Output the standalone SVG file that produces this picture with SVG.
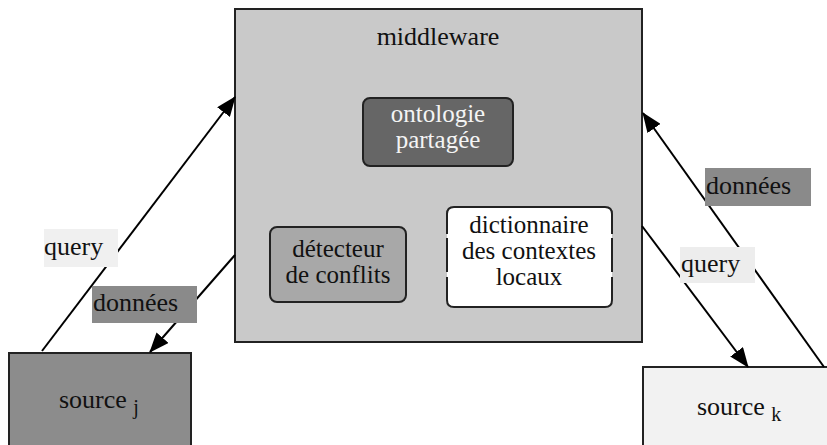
<svg xmlns="http://www.w3.org/2000/svg" width="827" height="445" viewBox="0 0 827 445">
<defs>
<marker id="ah" viewBox="0 0 20 16" refX="19" refY="8" markerWidth="20" markerHeight="16" markerUnits="userSpaceOnUse" orient="auto">
<path d="M0,0 L20,8 L0,16 Z" fill="#000"/>
</marker>
</defs>
<style>
text{font-family:"Liberation Serif","DejaVu Serif","Times New Roman",serif;font-size:26px;fill:#111}
.c{text-anchor:middle}
.m{font-size:25px}
.box{stroke:#222;stroke-width:2}
.conn{stroke:#000;stroke-width:2;fill:none}
</style>
<rect width="827" height="445" fill="#fff"/>
<g id="middleware">
<rect class="box" x="235" y="9" width="407" height="333" fill="#c9c9c9"/>
<text class="c" x="438" y="45" font-family="Liberation Serif, serif">middleware</text>
</g>
<g id="ontologie">
<rect class="box" x="363" y="98" width="150" height="68" rx="7" fill="#666"/>
<text class="c m" x="438" y="122" font-family="Liberation Serif, serif" style="fill:#f4f4f4">ontologie</text>
<text class="c m" x="438" y="148" font-family="Liberation Serif, serif" style="fill:#f4f4f4">partagée</text>
</g>
<g id="detecteur">
<rect class="box" x="270" y="227" width="136" height="75" rx="7" fill="#a8a8a8"/>
<text class="c m" x="338" y="257" font-family="Liberation Serif, serif">détecteur</text>
<text class="c m" x="338" y="283" font-family="Liberation Serif, serif">de conflits</text>
</g>
<g id="dictionnaire">
<rect x="447" y="207" width="165" height="100" rx="7" fill="#fff"/>
<path class="box" fill="none" d="M447,234 V214 Q447,207 454,207 H605 Q612,207 612,214 V234 M612,238 V272 M612,277 V300 Q612,307 605,307 H454 Q447,307 447,300 V277 M447,272 V238"/>
<text class="c m" x="529" y="233" font-family="Liberation Serif, serif">dictionnaire</text>
<text class="c m" x="529" y="259" font-family="Liberation Serif, serif">des contextes</text>
<text class="c m" x="529" y="285" font-family="Liberation Serif, serif">locaux</text>
</g>
<g id="source_j">
<rect class="box" x="9" y="353" width="182" height="100" fill="#8c8c8c"/>
<text x="59" y="408" font-family="Liberation Serif, serif">source <tspan font-size="20" dy="6">j</tspan></text>
</g>
<g id="source_k">
<rect class="box" x="643" y="367" width="190" height="90" fill="#f2f2f2"/>
<text x="697" y="415" font-family="Liberation Serif, serif">source <tspan font-size="20" dy="6">k</tspan></text>
</g>
<g id="connectors">
<line class="conn" x1="42" y1="351" x2="235" y2="97" marker-end="url(#ah)"/>
<line class="conn" x1="235" y1="255" x2="150" y2="352" marker-end="url(#ah)"/>
<line class="conn" x1="824" y1="367" x2="643" y2="113" marker-end="url(#ah)"/>
<line class="conn" x1="642" y1="226" x2="748" y2="367" marker-end="url(#ah)"/>
</g>
<g id="labels">
<rect x="44" y="229" width="74" height="38" fill="#f0f0f0"/>
<text x="44" y="255" font-family="Liberation Serif, serif">query</text>
<rect x="92" y="286" width="105" height="37" fill="#8a8a8a"/>
<text x="93" y="311" font-family="Liberation Serif, serif">données</text>
<rect x="705" y="168" width="106" height="38" fill="#8a8a8a"/>
<text x="706" y="194" font-family="Liberation Serif, serif">données</text>
<rect x="680" y="247" width="75" height="36" fill="#ededed"/>
<text x="681" y="272" font-family="Liberation Serif, serif">query</text>
</g>
</svg>
